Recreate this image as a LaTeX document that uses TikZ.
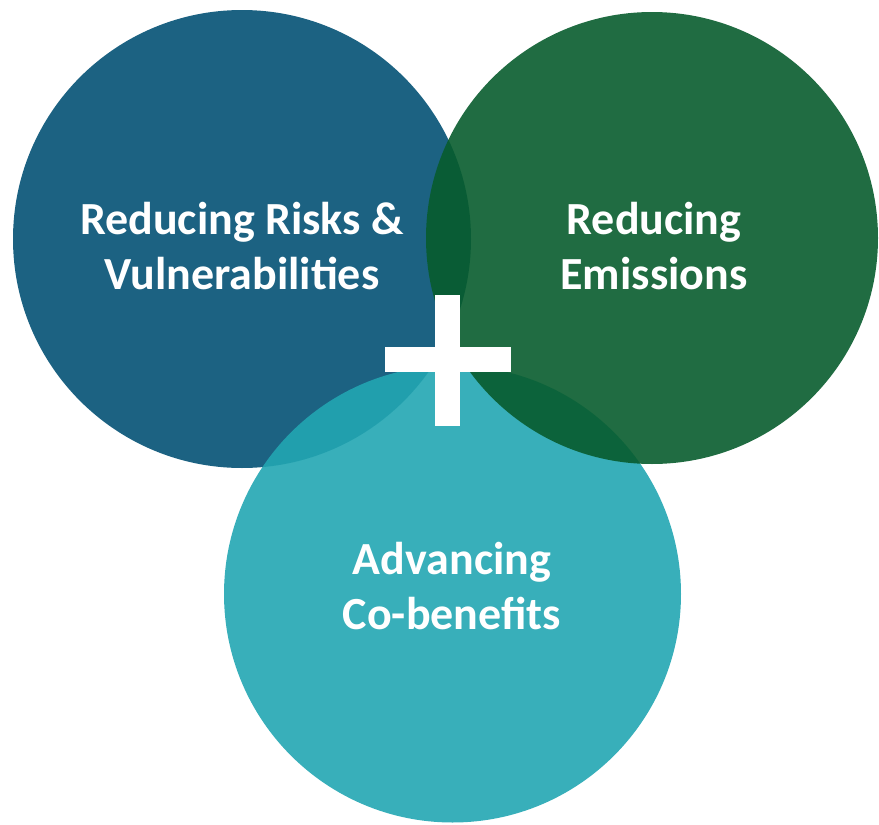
\documentclass[tikz,border=0pt]{standalone}
\usepackage{fontspec}
\setmainfont{Carlito}
\definecolor{risksblue}{RGB}{28,98,130}
\definecolor{emisgreen}{RGB}{8,92,45}
\definecolor{cobteal}{RGB}{34,166,178}
\tikzset{
	bubble/.style={draw=none, fill opacity=0.9},
	bubbletext/.style={text=white, align=center,
		font=\fontsize{46}{55}\selectfont\bfseries},
	plusbar/.style={draw=none, fill=white}
}
\begin{document}
\begin{tikzpicture}[x=1pt, y=1pt]
	\useasboundingbox (0,0) rectangle (879,-825);
	% Kreise
	\filldraw[bubble, fill=risksblue, fill opacity=1] (242,-239) circle (229);
	\filldraw[bubble, fill=cobteal] (452.5,-594) circle (228.5);
	\filldraw[bubble, fill=emisgreen] (652,-238) circle (226);
	% Plus
	\filldraw[plusbar] (385,-347) rectangle (511,-372);
	\filldraw[plusbar] (435,-295) rectangle (460,-426);
	% Beschriftungen
	\node[bubbletext] (risks) at (242,-246) {Reducing Risks \&\\Vulnerabilities};
	\node[bubbletext] (emissions) at (654,-246) {Reducing\\Emissions};
	\node[bubbletext] (cobenefits) at (452,-586) {Advancing\\Co-benefits};
\end{tikzpicture}
\end{document}
